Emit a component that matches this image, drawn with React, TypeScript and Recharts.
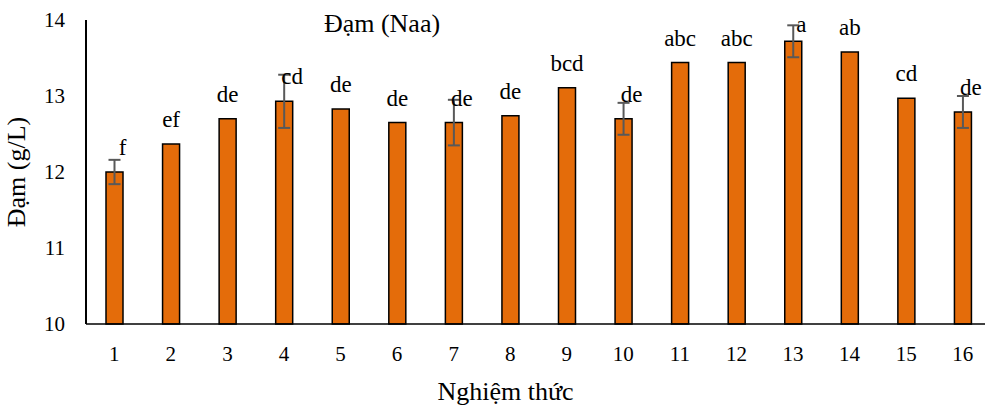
import React from 'react';
import { BarChart, Bar, XAxis, YAxis, ErrorBar, LabelList, Label } from 'recharts';

// Nghiệm thức 1..16, hàm lượng đạm (g/L)
const treatments = ['1', '2', '3', '4', '5', '6', '7', '8', '9', '10', '11', '12', '13', '14', '15', '16'];
const protein = [12.0, 12.37, 12.7, 12.93, 12.83, 12.65, 12.65, 12.74, 13.11, 12.7, 13.44, 13.44, 13.72, 13.58, 12.97, 12.79];
const errors = [0.16, 0, 0, 0.35, 0, 0, 0.3, 0, 0, 0.21, 0, 0, 0.21, 0, 0, 0.21];
const letters = ['f', 'ef', 'de', 'cd', 'de', 'de', 'de', 'de', 'bcd', 'de', 'abc', 'abc', 'a', 'ab', 'cd', 'de'];
const yTicks = [10, 11, 12, 13, 14];

const data = treatments.map((t, i) => ({
  name: t,
  value: protein[i],
  err: errors[i],
  letter: letters[i],
}));

const FONT = 'Liberation Serif, serif';

const LetterLabel = (props: any) => {
  const { x, y, width, index, value } = props;
  const shift = errors[index] > 0 ? 8 : 0;
  return (
    <text
      x={x + width / 2 + shift}
      y={Math.max(y - 17, 32)}
      textAnchor="middle"
      fill="#000"
      style={{ fontSize: 23, fontFamily: FONT }}
    >
      {value}
    </text>
  );
};

export default function App() {
  return (
    <div
      style={{
        position: 'absolute',
        left: 0,
        top: 0,
        width: 985,
        height: 406,
        overflow: 'hidden',
        background: '#fff',
        fontFamily: FONT,
      }}
    >
      <div
        style={{
          position: 'absolute',
          left: 382,
          top: 11,
          transform: 'translateX(-50%)',
          whiteSpace: 'nowrap',
          fontSize: 26,
          lineHeight: '26px',
          color: '#000',
        }}
      >
        Đạm (Naa)
      </div>
      <BarChart width={991} height={406} data={data} margin={{ top: 20, right: 0, left: 0, bottom: 0 }}>
        <XAxis
          dataKey="name"
          height={82}
          tickLine={false}
          tickSize={0}
          tickMargin={22}
          axisLine={{ stroke: '#000', strokeWidth: 1.5 }}
          tick={{ fontSize: 21, fill: '#000', style: { fontFamily: FONT } }}
          interval={0}
        >
          <Label
            content={(p: any) => {
              const vb = p.viewBox;
              return (
                <text
                  x={vb.x + vb.width / 2 - 33}
                  y={vb.y + 76}
                  textAnchor="middle"
                  fill="#000"
                  style={{ fontSize: 26, fontFamily: FONT }}
                >
                  Nghiệm thức
                </text>
              );
            }}
          />
        </XAxis>
        <YAxis
          width={86}
          domain={[10, 14]}
          ticks={yTicks}
          tickLine={false}
          tickSize={0}
          tickMargin={21}
          axisLine={{ stroke: '#000', strokeWidth: 2 }}
          tick={{ fontSize: 21, fill: '#000', style: { fontFamily: FONT } }}
        >
          <Label
            content={(p: any) => {
              const vb = p.viewBox;
              const cx = 25;
              const cy = vb.y + vb.height / 2;
              return (
                <text
                  x={cx}
                  y={cy}
                  transform={`rotate(-90, ${cx}, ${cy})`}
                  textAnchor="middle"
                  fill="#000"
                  style={{ fontSize: 26, fontFamily: FONT }}
                >
                  Đạm (g/L)
                </text>
              );
            }}
          />
        </YAxis>
        <Bar
          dataKey="value"
          barSize={17}
          fill="#E46C0A"
          stroke="#000"
          strokeWidth={1.5}
          isAnimationActive={false}
        >
          <ErrorBar dataKey="err" width={6} stroke="#595959" strokeWidth={2} isAnimationActive={false} />
          <LabelList dataKey="letter" content={LetterLabel} />
        </Bar>
      </BarChart>
    </div>
  );
}
